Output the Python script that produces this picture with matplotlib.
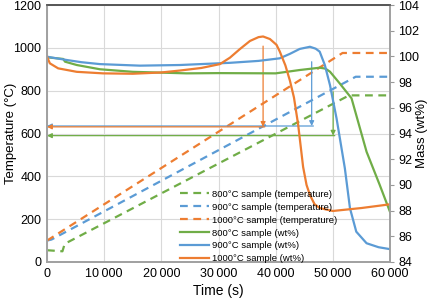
import numpy as np
import matplotlib
matplotlib.use("Agg")
import matplotlib.pyplot as plt

plt.rcParams['font.family'] = ['Liberation Sans', 'DejaVu Sans']

# temperature programmes (left axis, deg C)
t_temp_800 = [0, 2700, 3100, 52850, 60000]
temp_800 = [55, 50, 85, 778, 778]
t_temp_900 = [0, 800, 54000, 60000]
temp_900 = [100, 105, 865, 865]
t_temp_1000 = [0, 51700, 60000]
temp_1000 = [100, 976, 976]

# mass curves (right axis, wt%)
t_mass_800 = [0, 2850, 3150, 5200, 9250, 15000, 24400, 30000, 40000, 44200,
              47700, 48700, 49500, 51200, 53270, 55900, 58200, 60000]
mass_800 = [99.93, 99.8, 99.59, 99.33, 99.0, 98.8, 98.68, 98.7, 98.68, 98.94,
            99.12, 99.05, 98.81, 97.9, 96.74, 92.58, 90.0, 87.9]
t_mass_900 = [0, 1000, 3450, 6000, 9250, 16250, 23250, 32000, 37000, 40700,
              42500, 44200, 46000, 47000, 47700, 48600, 49500, 50650, 52100,
              53000, 54100, 55900, 58000, 60000]
mass_900 = [99.98, 99.9, 99.72, 99.55, 99.4, 99.28, 99.33, 99.5, 99.65, 99.85,
            100.2, 100.58, 100.75, 100.6, 100.37, 99.33, 97.77, 95.18, 91.3,
            88.18, 86.36, 85.46, 85.15, 85.0]
t_mass_1000 = [0, 500, 1950, 5200, 9800, 15000, 20000, 23250, 27000, 30250,
               32000, 33740, 35500, 37000, 37800, 39000, 40150, 40700, 41700,
               42500, 43200, 43930, 44800, 45400, 46000, 46800, 47700, 50000,
               55000, 60000]
mass_1000 = [99.98, 99.46, 99.07, 98.8, 98.68, 98.65, 98.75, 98.9, 99.1, 99.4,
             99.9, 100.57, 101.2, 101.5, 101.55, 101.35, 100.9, 100.4, 99.3,
             98.1, 96.8, 94.7, 91.4, 90.0, 89.2, 88.5, 88.2, 87.97, 88.2, 88.49]

# onset markers: (time, top temperature, level temperature)
marker_800 = (50050, 795, 590)
marker_900 = (46300, 935, 635)
marker_1000 = (37800, 1008, 631)

green = '#70AD47'
blue = '#5B9BD5'
orange = '#ED7D31'

fig = plt.figure(figsize=(4.32, 3.01), dpi=100)
ax = fig.add_axes([47 / 432, 1 - 262 / 301, 343 / 432, 257 / 301])
ax2 = ax.twinx()

dash = (0, (3.5, 2.5))
l1, = ax.plot(t_temp_800, temp_800, color=green, lw=1.6, ls=dash, label='800°C sample (temperature)')
l2, = ax.plot(t_temp_900, temp_900, color=blue, lw=1.6, ls=dash, label='900°C sample (temperature)')
l3, = ax.plot(t_temp_1000, temp_1000, color=orange, lw=1.6, ls=dash, label='1000°C sample (temperature)')

for (tx, top, lvl), c in [(marker_800, green), (marker_900, blue), (marker_1000, orange)]:
    ax.annotate('', xy=(tx, lvl), xytext=(tx, top),
                arrowprops=dict(arrowstyle='-|>', color=c, lw=0.9, mutation_scale=7,
                                shrinkA=0, shrinkB=0))
    ax.annotate('', xy=(0, lvl), xytext=(tx + 300, lvl),
                arrowprops=dict(arrowstyle='-|>', color=c, lw=0.9, mutation_scale=7,
                                shrinkA=0, shrinkB=0))

l4, = ax2.plot(t_mass_800, mass_800, color=green, lw=1.6, label='800°C sample (wt%)')
l5, = ax2.plot(t_mass_900, mass_900, color=blue, lw=1.6, label='900°C sample (wt%)')
l6, = ax2.plot(t_mass_1000, mass_1000, color=orange, lw=1.6, label='1000°C sample (wt%)')

ax.set_xlim(0, 60000)
ax.set_ylim(0, 1200)
ax2.set_ylim(84, 104)
xt = np.arange(0, 60001, 10000)
ax.set_xticks(xt)
ax.set_xticklabels(['0'] + [f'{v // 1000}\u2009000' for v in xt[1:]])
ax.set_yticks(np.arange(0, 1201, 200))
ax2.set_yticks(np.arange(84, 105, 2))

ax.grid(True, color='#d9d9d9', lw=0.8)
ax.set_axisbelow(True)
ax.tick_params(length=0, labelsize=9, pad=4)
ax2.tick_params(length=3, width=0.8, color='#999999', labelsize=9, pad=3)

for a in (ax, ax2):
    for s in a.spines.values():
        s.set_color('#a0a0a0')
        s.set_linewidth(1.2)
    a.spines['top'].set_color('#555555')

ax.set_xlabel('Time (s)', fontsize=10, labelpad=3)
ax.set_ylabel('Temperature (°C)', fontsize=9.5)
ax.yaxis.set_label_coords(-0.088, 0.5)
ax2.set_ylabel('Mass (wt%)', fontsize=9.5)
ax2.yaxis.set_label_coords(1.077, 0.5)

ax2.legend(handles=[l1, l2, l3, l4, l5, l6], loc='upper left',
           bbox_to_anchor=(0.375, 0.3), frameon=False, fontsize=6.8,
           handlelength=3.0, handletextpad=0.4, labelspacing=0.42, borderpad=0)

fig.savefig('out.png', dpi=100)
